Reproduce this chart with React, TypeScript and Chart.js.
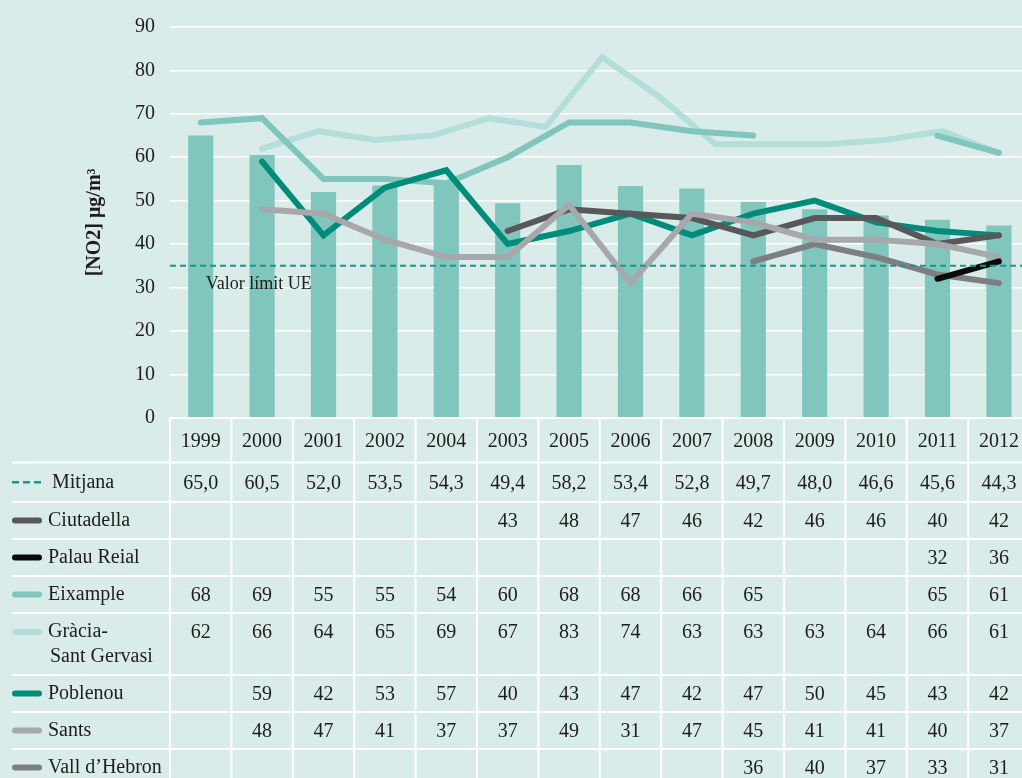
import React, { useEffect, useRef } from "react";
import { Chart, registerables } from "chart.js";

Chart.register(...registerables);

const YEARS = ["1999", "2000", "2001", "2002", "2004", "2003", "2005", "2006", "2007", "2008", "2009", "2010", "2011", "2012"];
const MITJANA = [65.0, 60.5, 52.0, 53.5, 54.3, 49.4, 58.2, 53.4, 52.8, 49.7, 48.0, 46.6, 45.6, 44.3];
const CIUTADELLA = [null, null, null, null, null, 43, 48, 47, 46, 42, 46, 46, 40, 42];
const PALAU_REIAL = [null, null, null, null, null, null, null, null, null, null, null, null, 32, 36];
const EIXAMPLE = [68, 69, 55, 55, 54, 60, 68, 68, 66, 65, null, null, 65, 61];
const GRACIA = [62, 66, 64, 65, 69, 67, 83, 74, 63, 63, 63, 64, 66, 61];
const POBLENOU = [null, 59, 42, 53, 57, 40, 43, 47, 42, 47, 50, 45, 43, 42];
const SANTS = [null, 48, 47, 41, 37, 37, 49, 31, 47, 45, 41, 41, 40, 37];
const VALL_HEBRON = [null, null, null, null, null, null, null, null, null, 36, 40, 37, 33, 31];
const LIMIT = 35;
const LIMIT_LABEL = "Valor límit UE";
const Y_MIN = 0;
const Y_MAX = 90;
const Y_STEP = 10;
// In the drawing, the Gràcia line starts at the 2000 column and ends at 2012
const GRACIA_START_COL = 1;

const FONT = '"Liberation Serif", "DejaVu Serif", serif';
const BG = "#daecea";
const TEXT = "#1f1d1c";
const W = 1040;
const H = 778;
const TABLE_TOP = 418;
const ROW_TOPS = [462.5, 502, 539, 576, 613, 675, 712, 749];
const ROW_BOTTOMS = [502, 539, 576, 613, 675, 712, 749, 786];

const C_BAR = "#80c6bd";
const C_LIMIT = "#17988a";
const C_CIUT = "#58585a";
const C_PALAU = "#0b0b0b";
const C_EIX = "#80c6bd";
const C_GRA = "#b3deda";
const C_POB = "#008b7b";
const C_SANTS = "#a7a8ab";
const C_VALL = "#7e7f82";

type Row = { label: string[]; values: (number | null)[]; color: string; dashed?: boolean; decimals?: boolean };

const ROWS: Row[] = [
  { label: ["Mitjana"], values: MITJANA, color: C_LIMIT, dashed: true, decimals: true },
  { label: ["Ciutadella"], values: CIUTADELLA, color: C_CIUT },
  { label: ["Palau Reial"], values: PALAU_REIAL, color: C_PALAU },
  { label: ["Eixample"], values: EIXAMPLE, color: C_EIX },
  { label: ["Gràcia-", "Sant Gervasi"], values: GRACIA, color: C_GRA },
  { label: ["Poblenou"], values: POBLENOU, color: C_POB },
  { label: ["Sants"], values: SANTS, color: C_SANTS },
  { label: ["Vall d\u2019Hebron"], values: VALL_HEBRON, color: C_VALL },
];

const n = YEARS.length;
const graciaSlope = (n - 1 - GRACIA_START_COL) / (GRACIA.length - 1);
const GRACIA_X_MIN = -(GRACIA_START_COL + 0.5) / graciaSlope;
const GRACIA_X_MAX = GRACIA_X_MIN + n / graciaSlope;

const tablePlugin = {
  id: "tablePlugin",
  afterDatasetsDraw(chart: any) {
    const { ctx, chartArea } = chart;
    const y = chart.scales.y.getPixelForValue(LIMIT);
    ctx.save();
    ctx.strokeStyle = C_LIMIT;
    ctx.lineWidth = 2;
    ctx.setLineDash([6, 4]);
    ctx.beginPath();
    ctx.moveTo(chartArea.left, y);
    ctx.lineTo(W, y);
    ctx.stroke();
    ctx.setLineDash([]);
    ctx.fillStyle = TEXT;
    ctx.font = `18px ${FONT}`;
    ctx.textAlign = "left";
    ctx.textBaseline = "middle";
    ctx.fillText(LIMIT_LABEL, chart.scales.x.getPixelForValue(0) + 5, y + 19);
    ctx.restore();
  },
  afterDraw(chart: any) {
    const { ctx, chartArea } = chart;
    const xs = chart.scales.x;
    const left = chartArea.left;
    const colW = (chartArea.right - chartArea.left) / n;
    ctx.save();
    ctx.strokeStyle = "#ffffff";
    ctx.lineWidth = 2;
    ctx.beginPath();
    ctx.moveTo(left, TABLE_TOP);
    ctx.lineTo(W, TABLE_TOP);
    ROW_TOPS.forEach((t) => {
      ctx.moveTo(12, t);
      ctx.lineTo(W, t);
    });
    for (let i = 0; i <= n; i++) {
      const x = left + i * colW;
      ctx.moveTo(x, TABLE_TOP);
      ctx.lineTo(x, H);
    }
    ctx.stroke();

    ctx.fillStyle = TEXT;
    ctx.textBaseline = "middle";
    ctx.font = `20px ${FONT}`;
    ctx.textAlign = "center";
    YEARS.forEach((yr, i) => {
      ctx.fillText(yr, xs.getPixelForValue(i), (TABLE_TOP + ROW_TOPS[0]) / 2 + 1);
    });

    ROWS.forEach((row, r) => {
      const top = ROW_TOPS[r];
      const bottom = ROW_BOTTOMS[r];
      const yFirst = row.label.length > 1 ? top + 19 : (top + bottom) / 2;
      ctx.save();
      ctx.strokeStyle = row.color;
      if (row.dashed) {
        ctx.lineWidth = 2.5;
        ctx.setLineDash([7, 4]);
        ctx.beginPath();
        ctx.moveTo(12, yFirst);
        ctx.lineTo(41, yFirst);
        ctx.stroke();
      } else {
        ctx.lineWidth = 6;
        ctx.lineCap = "round";
        ctx.beginPath();
        ctx.moveTo(15, yFirst);
        ctx.lineTo(39, yFirst);
        ctx.stroke();
      }
      ctx.restore();
      ctx.textAlign = "left";
      ctx.fillStyle = TEXT;
      row.label.forEach((ln, k) => {
        const lx = row.dashed ? 52 : k > 0 ? 50 : 48;
        ctx.fillText(ln, lx, yFirst + k * 25);
      });
      ctx.textAlign = "center";
      row.values.forEach((v, i) => {
        if (v === null || v === undefined) return;
        const s = row.decimals ? v.toFixed(1).replace(".", ",") : String(v);
        ctx.fillText(s, xs.getPixelForValue(i), yFirst + 1);
      });
    });
    ctx.restore();
  },
};

function lineDs(label: string, data: any[], color: string, order: number, extra: any = {}) {
  return {
    type: "line" as const,
    label,
    data,
    borderColor: color,
    backgroundColor: color,
    borderWidth: 6,
    pointRadius: 0,
    tension: 0,
    spanGaps: false,
    borderCapStyle: "round",
    borderJoinStyle: "miter",
    fill: false,
    order,
    ...extra,
  };
}

export default function App() {
  const ref = useRef<HTMLCanvasElement | null>(null);
  useEffect(() => {
    if (!ref.current) return;
    const chart = new Chart(ref.current, {
      type: "bar",
      data: {
        labels: YEARS,
        datasets: [
          {
            type: "bar",
            label: "Mitjana",
            data: MITJANA,
            backgroundColor: C_BAR,
            borderWidth: 0,
            grouped: false,
            categoryPercentage: 1,
            barPercentage: 0.41,
            order: 10,
          } as any,
          lineDs("Gràcia-Sant Gervasi", GRACIA.map((v, i) => ({ x: i, y: v })), C_GRA, 8, { xAxisID: "x2" }),
          lineDs("Eixample", EIXAMPLE, C_EIX, 7),
          lineDs("Poblenou", POBLENOU, C_POB, 6),
          lineDs("Ciutadella", CIUTADELLA, C_CIUT, 5),
          lineDs("Vall d'Hebron", VALL_HEBRON, C_VALL, 4),
          lineDs("Sants", SANTS, C_SANTS, 3),
          lineDs("Palau Reial", PALAU_REIAL, C_PALAU, 2),
        ],
      },
      options: {
        responsive: false,
        animation: false,
        events: [],
        layout: { padding: { left: 80, right: W - 1029.6, top: 25.7, bottom: H - 417.7 } },
        plugins: { legend: { display: false }, tooltip: { enabled: false } },
        scales: {
          x: { type: "category", display: false, offset: true },
          x2: {
            type: "linear",
            display: false,
            offset: false,
            bounds: "data",
            min: GRACIA_X_MIN,
            max: GRACIA_X_MAX,
            grid: { offset: false },
          },
          y: {
            min: Y_MIN,
            max: Y_MAX,
            ticks: { stepSize: Y_STEP, padding: 15, color: TEXT, font: { family: FONT, size: 20 } },
            grid: { color: "#ffffff", lineWidth: 1.5, drawTicks: false },
            border: { display: false },
            title: {
              display: true,
              text: "[NO2] μg/m³",
              color: TEXT,
              font: { family: FONT, size: 20, weight: "bold" },
              padding: { top: 3, bottom: 0 },
            },
            afterFit: (s: any) => {
              s.width = 90;
            },
          },
        },
      } as any,
      plugins: [tablePlugin],
    });
    return () => chart.destroy();
  }, []);
  return (
    <div
      style={{
        position: "absolute",
        left: 0,
        top: 0,
        width: 1022,
        height: 778,
        overflow: "hidden",
        background: BG,
      }}
    >
      <canvas ref={ref} width={W} height={H} style={{ display: "block" }} />
    </div>
  );
}
